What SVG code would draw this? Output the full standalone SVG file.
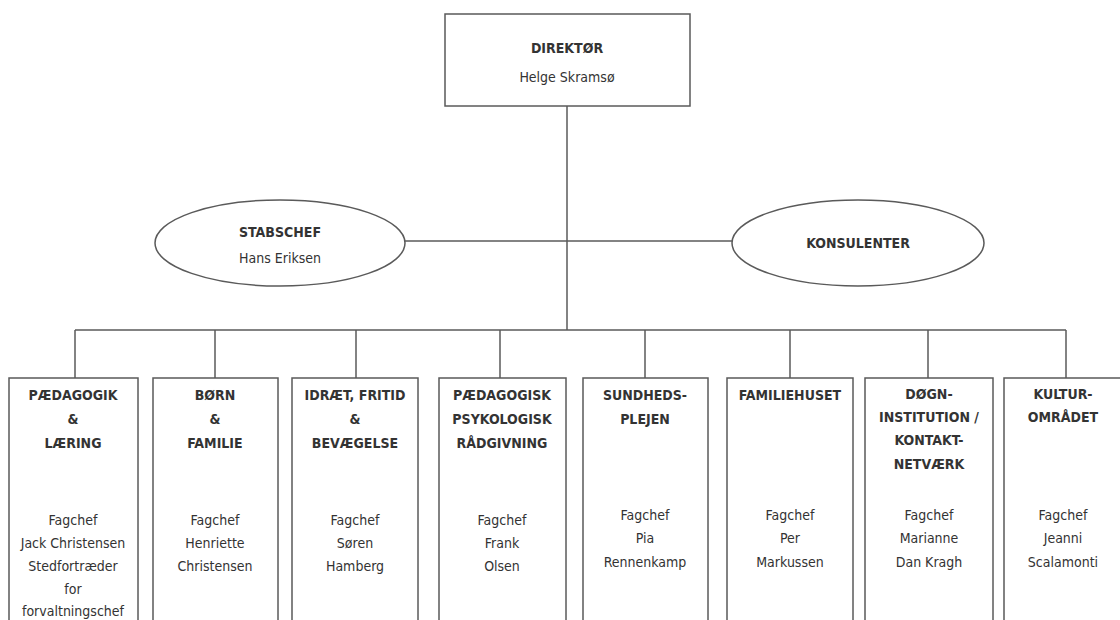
<svg xmlns="http://www.w3.org/2000/svg" width="1120" height="620" viewBox="0 0 1120 620">
<style>
.bx{fill:#fff;stroke:#5a5a5a;stroke-width:1.5}
.ln{fill:none;stroke:#5a5a5a;stroke-width:1.5}
.t{font-family:"Liberation Sans Narrow","DejaVu Sans Condensed",sans-serif;font-size:14px;fill:#333;text-anchor:middle}
.b{font-weight:bold}
</style>
<rect width="1120" height="620" fill="#fff"/>
<g id="connectors">
<line class="ln" x1="567" y1="106" x2="567" y2="330"/>
<line class="ln" x1="405" y1="241" x2="732" y2="241"/>
<line class="ln" x1="75" y1="330" x2="1066" y2="330"/>
<line class="ln" x1="75" y1="330" x2="75" y2="378"/>
<line class="ln" x1="215" y1="330" x2="215" y2="378"/>
<line class="ln" x1="356" y1="330" x2="356" y2="378"/>
<line class="ln" x1="500" y1="330" x2="500" y2="378"/>
<line class="ln" x1="645" y1="330" x2="645" y2="378"/>
<line class="ln" x1="790" y1="330" x2="790" y2="378"/>
<line class="ln" x1="928" y1="330" x2="928" y2="378"/>
<line class="ln" x1="1066" y1="330" x2="1066" y2="378"/>
</g>
<g id="direktor">
<rect class="bx" x="445" y="14" width="245" height="92"/>
<text class="t b" x="567" y="53">DIREKTØR</text>
<text class="t" x="567" y="82">Helge Skramsø</text>
</g>
<g id="stabschef">
<ellipse class="bx" cx="280" cy="243" rx="125" ry="43"/>
<text class="t b" x="280" y="237">STABSCHEF</text>
<text class="t" x="280" y="263">Hans Eriksen</text>
</g>
<g id="konsulenter">
<ellipse class="bx" cx="858" cy="243" rx="126" ry="43"/>
<text class="t b" x="858" y="248">KONSULENTER</text>
</g>
<g id="paedagogik">
<rect class="bx" x="9" y="378" width="129" height="260"/>
<text class="t b" x="73" y="400">PÆDAGOGIK</text>
<text class="t b" x="73" y="424">&amp;</text>
<text class="t b" x="73" y="448">LÆRING</text>
<text class="t" x="73" y="525">Fagchef</text>
<text class="t" x="73" y="548">Jack Christensen</text>
<text class="t" x="73" y="571">Stedfortræder</text>
<text class="t" x="73" y="594">for</text>
<text class="t" x="73" y="616">forvaltningschef</text>
</g>
<g id="born">
<rect class="bx" x="153" y="378" width="125" height="260"/>
<text class="t b" x="215" y="400">BØRN</text>
<text class="t b" x="215" y="424">&amp;</text>
<text class="t b" x="215" y="448">FAMILIE</text>
<text class="t" x="215" y="525">Fagchef</text>
<text class="t" x="215" y="548">Henriette</text>
<text class="t" x="215" y="571">Christensen</text>
</g>
<g id="idraet">
<rect class="bx" x="292" y="378" width="126" height="260"/>
<text class="t b" x="355" y="400">IDRÆT, FRITID</text>
<text class="t b" x="355" y="424">&amp;</text>
<text class="t b" x="355" y="448">BEVÆGELSE</text>
<text class="t" x="355" y="525">Fagchef</text>
<text class="t" x="355" y="548">Søren</text>
<text class="t" x="355" y="571">Hamberg</text>
</g>
<g id="ppr">
<rect class="bx" x="439" y="378" width="127" height="260"/>
<text class="t b" x="502" y="400">PÆDAGOGISK</text>
<text class="t b" x="502" y="424">PSYKOLOGISK</text>
<text class="t b" x="502" y="448">RÅDGIVNING</text>
<text class="t" x="502" y="525">Fagchef</text>
<text class="t" x="502" y="548">Frank</text>
<text class="t" x="502" y="571">Olsen</text>
</g>
<g id="sundhed">
<rect class="bx" x="583" y="378" width="125" height="260"/>
<text class="t b" x="645" y="400">SUNDHEDS-</text>
<text class="t b" x="645" y="424">PLEJEN</text>
<text class="t" x="645" y="520">Fagchef</text>
<text class="t" x="645" y="543">Pia</text>
<text class="t" x="645" y="567">Rennenkamp</text>
</g>
<g id="familiehuset">
<rect class="bx" x="727" y="378" width="126" height="260"/>
<text class="t b" x="790" y="400">FAMILIEHUSET</text>
<text class="t" x="790" y="520">Fagchef</text>
<text class="t" x="790" y="543">Per</text>
<text class="t" x="790" y="567">Markussen</text>
</g>
<g id="dogn">
<rect class="bx" x="865" y="378" width="128" height="260"/>
<text class="t b" x="929" y="399">DØGN-</text>
<text class="t b" x="929" y="422">INSTITUTION /</text>
<text class="t b" x="929" y="445">KONTAKT-</text>
<text class="t b" x="929" y="469">NETVÆRK</text>
<text class="t" x="929" y="520">Fagchef</text>
<text class="t" x="929" y="543">Marianne</text>
<text class="t" x="929" y="567">Dan Kragh</text>
</g>
<g id="kultur">
<rect class="bx" x="1004" y="378" width="128" height="260"/>
<text class="t b" x="1063" y="399">KULTUR-</text>
<text class="t b" x="1063" y="422">OMRÅDET</text>
<text class="t" x="1063" y="520">Fagchef</text>
<text class="t" x="1063" y="543">Jeanni</text>
<text class="t" x="1063" y="567">Scalamonti</text>
</g>
</svg>
